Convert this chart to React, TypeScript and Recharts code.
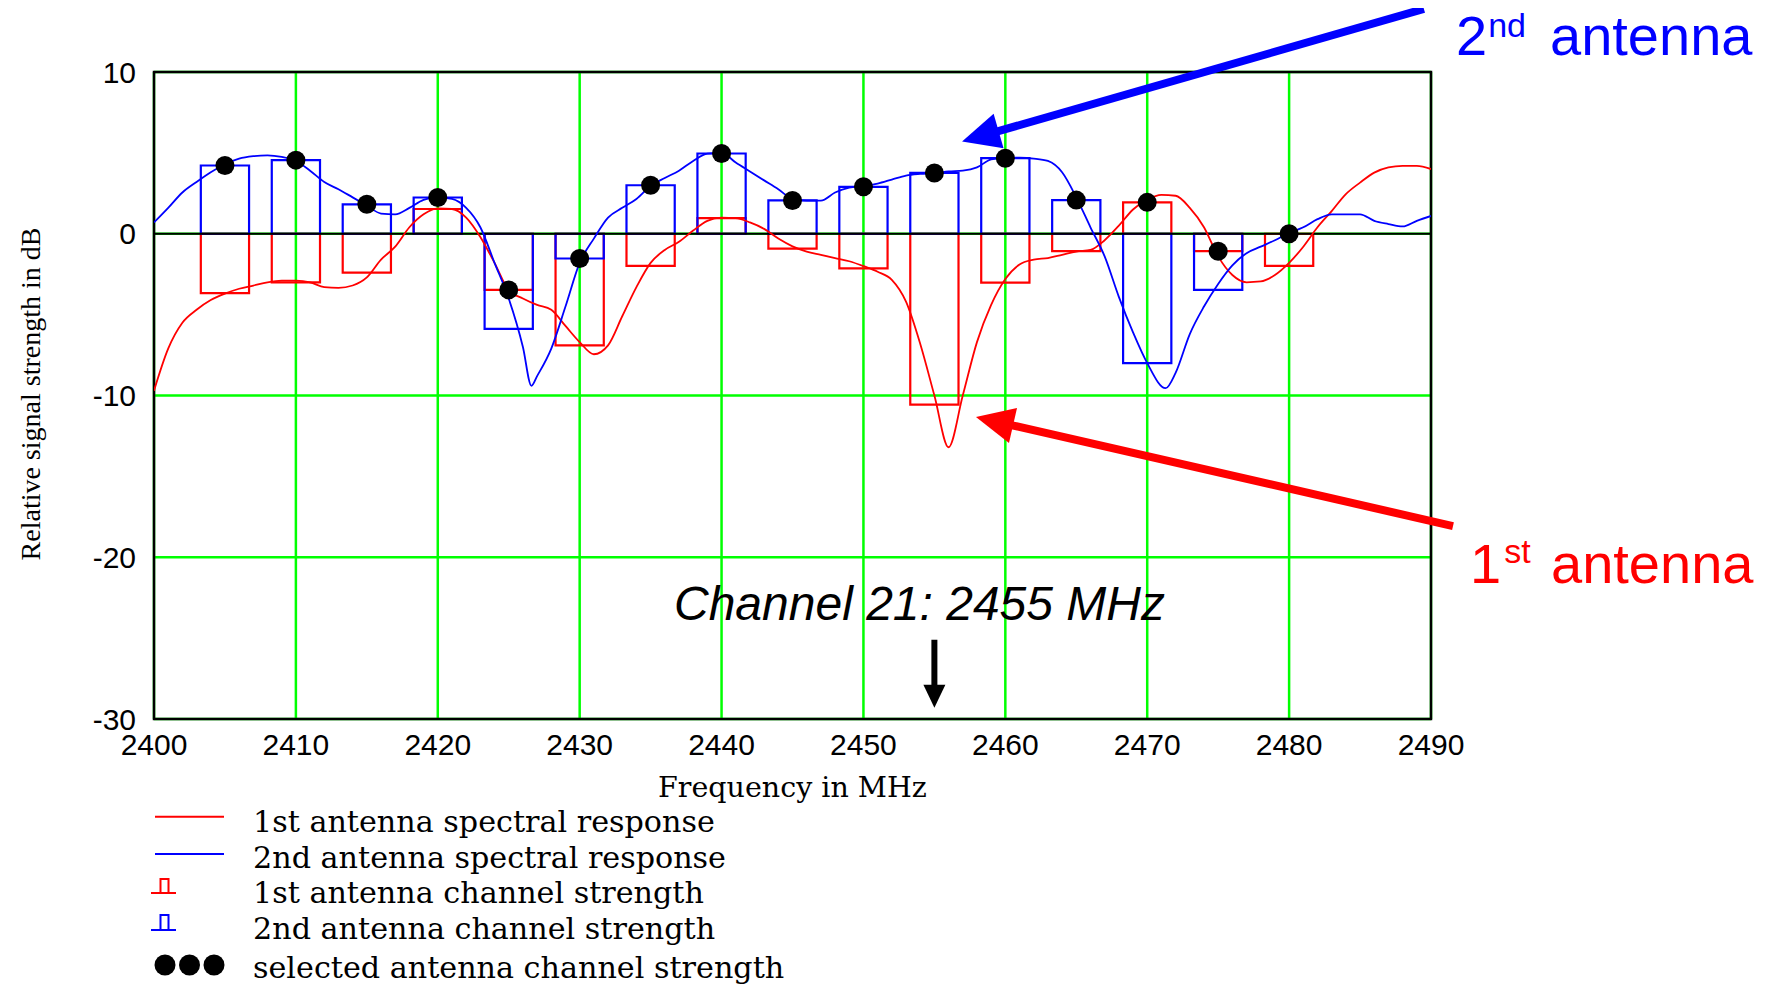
import React from 'react';
import {
  ComposedChart,
  XAxis,
  YAxis,
  CartesianGrid,
  Line,
  Scatter,
  ReferenceArea,
  ReferenceLine,
} from 'recharts';

// ---- Data ----
const ant1Freq = [
  2400, 2401, 2402, 2403, 2404, 2405, 2406, 2407, 2408, 2409,
  2410, 2411, 2412, 2413, 2414, 2415, 2416, 2417, 2418, 2419,
  2420, 2421, 2422, 2423, 2424, 2425, 2426, 2427, 2428, 2429,
  2430, 2431, 2432, 2433, 2434, 2435, 2436, 2437, 2438, 2439,
  2440, 2441, 2442, 2443, 2444, 2445, 2446, 2447, 2448, 2449,
  2450, 2451, 2452, 2453, 2454, 2455, 2456, 2457, 2458, 2459,
  2460, 2461, 2462, 2463, 2464, 2465, 2466, 2467, 2468, 2469,
  2470, 2471, 2472, 2473, 2474, 2475, 2476, 2477, 2478, 2479,
  2480, 2481, 2482, 2483, 2484, 2485, 2486, 2487, 2488, 2489,
  2490,
];
const ant1Db = [
  -9.7, -7.1, -5.5, -4.7, -4.1, -3.7, -3.4, -3.2, -3.0, -2.9,
  -2.9, -3.0, -3.3, -3.35, -3.2, -2.7, -1.6, -0.8, 0.4, 1.2,
  1.57, 1.53, 1.0, -0.2, -1.8, -3.5, -4.0, -4.4, -4.7, -5.7,
  -6.7, -7.45, -6.9, -5.1, -3.3, -1.8, -1.0, -0.5, 0.2, 0.8,
  1.0, 0.96, 0.7, 0.3, -0.3, -0.78, -1.1, -1.3, -1.5, -1.7,
  -2.0, -2.35, -2.85, -4.2, -6.8, -10.0, -13.2, -10.0, -6.7, -4.4,
  -2.8, -1.9, -1.6, -1.5, -1.3, -1.1, -1.0, -0.4, 0.5, 1.5,
  2.1, 2.4, 2.35, 1.6, 0.4, -1.4, -2.55, -3.0, -2.95, -2.55,
  -1.8, -0.8, 0.4, 1.4, 2.45, 3.16, 3.78, 4.1, 4.2, 4.2,
  4.0,
];

const ant2Freq = [
  2400, 2401, 2402, 2403, 2404, 2405, 2406, 2407, 2408, 2409,
  2410, 2411, 2412, 2413, 2414, 2415, 2416, 2417, 2418, 2419,
  2420, 2421, 2422, 2423, 2424, 2425, 2426, 2426.6, 2427, 2428, 2429,
  2430, 2431, 2432, 2433, 2434, 2435, 2436, 2437, 2438, 2439,
  2440, 2441, 2442, 2443, 2444, 2445, 2446, 2447, 2448, 2449,
  2450, 2451, 2452, 2453, 2454, 2455, 2456, 2457, 2458, 2459,
  2460, 2461, 2462, 2463, 2464, 2465, 2466, 2467, 2468, 2469,
  2470, 2471.3, 2472, 2473, 2474, 2475, 2476, 2477, 2478, 2479,
  2480, 2481, 2482, 2483, 2484, 2485, 2486, 2487, 2488, 2489,
  2490,
];
const ant2Db = [
  0.7, 1.6, 2.55, 3.2, 3.8, 4.3, 4.65, 4.8, 4.85, 4.75,
  4.5, 3.9, 3.2, 2.75, 2.25, 1.75, 1.25, 1.2, 1.6, 2.1,
  2.25, 2.15, 1.6, 0.4, -1.8, -4.0, -7.0, -9.4, -8.8, -7.1, -4.5,
  -1.8, -0.3, 1.0, 1.6, 2.15, 2.95, 3.45, 3.9, 4.5, 4.95,
  5.0, 4.4, 3.85, 3.3, 2.75, 2.15, 2.05, 2.05, 2.55, 2.85,
  2.95, 3.1, 3.35, 3.6, 3.7, 3.75, 3.85, 3.9, 4.1, 4.6,
  4.7, 4.7, 4.65, 4.5, 3.8, 2.25, 0.4, -1.4, -3.9, -6.1,
  -8.0, -9.55, -8.6, -6.2, -4.5, -3.1, -1.95, -1.2, -0.8, -0.4,
  0.05, 0.4, 0.9, 1.2, 1.2, 1.2, 0.8, 0.6, 0.45, 0.8,
  1.1,
];

const channelFreq = [2405, 2410, 2415, 2420, 2425, 2430, 2435, 2440, 2445, 2450, 2455, 2460, 2465, 2470, 2475, 2480];
const ant1Channel = [-3.67, -3.0, -2.4, 1.53, -3.47, -6.9, -1.98, 0.96, -0.92, -2.14, -10.57, -3.02, -1.08, 1.94, -1.08, -1.98];
const ant2Channel = [4.22, 4.55, 1.82, 2.24, -5.88, -1.53, 3.0, 4.96, 2.06, 2.9, 3.76, 4.67, 2.08, -8.0, -3.47, 0];
const selectedChannel = [4.22, 4.55, 1.82, 2.24, -3.47, -1.53, 3.0, 4.96, 2.06, 2.9, 3.76, 4.67, 2.08, 1.94, -1.08, 0];

const xTicks = [2400, 2410, 2420, 2430, 2440, 2450, 2460, 2470, 2480, 2490];
const yTicks = [-30, -20, -10, 0, 10];

const legendLabels = [
  '1st antenna spectral response',
  '2nd antenna spectral response',
  '1st antenna channel strength',
  '2nd antenna channel strength',
  'selected antenna channel strength',
];

// ---- Derived tables for the library ----
const ant1Data = ant1Freq.map((f, i) => ({ f, v: ant1Db[i] }));
const ant2Data = ant2Freq.map((f, i) => ({ f, v: ant2Db[i] }));
const selectedData = channelFreq.map((f, i) => ({ f, v: selectedChannel[i] }));

const RED = '#ff0000';
const BLUE = '#0000ff';
const GREEN = '#00ff00';
const HALF_BAR = 1.7;

const makeArrow = (color: string, shaft: number, headLen: number, headW: number) => (props: any) => {
  const { x1, y1, x2, y2 } = props;
  if ([x1, y1, x2, y2].some((v) => typeof v !== 'number' || isNaN(v))) return null;
  const dx = x2 - x1;
  const dy = y2 - y1;
  const len = Math.hypot(dx, dy) || 1;
  const ux = dx / len;
  const uy = dy / len;
  const px = -uy;
  const py = ux;
  const bx = x2 - ux * headLen;
  const by = y2 - uy * headLen;
  const pts = `${x2},${y2} ${bx + (px * headW) / 2},${by + (py * headW) / 2} ${bx - (px * headW) / 2},${by - (py * headW) / 2}`;
  return (
    <g>
      <line x1={x1} y1={y1} x2={bx + ux * 2} y2={by + uy * 2} stroke={color} strokeWidth={shaft} />
      <polygon points={pts} fill={color} />
    </g>
  );
};

const W = 1760;
const H = 976;

export default function App() {
  const tickStyle = { fontFamily: 'Liberation Sans, Arial, sans-serif', fontSize: 30, fill: '#000' };
  const legendFont = 'DejaVu Serif, serif';
  const sansFont = 'Liberation Sans, Arial, sans-serif';
  const rowBase = [823.5, 860, 895, 931, 970];
  return (
    <div style={{ position: 'relative', width: W, height: H, background: '#fff' }}>
      <ComposedChart width={W} height={H} margin={{ top: 64, right: 337, bottom: 175, left: 0 }}>
        <CartesianGrid stroke={GREEN} strokeWidth={2.5} />
        <XAxis
          dataKey="f"
          type="number"
          domain={[2400, 2490]}
          ticks={xTicks}
          allowDataOverflow
          height={90}
          tickLine={false}
          axisLine={false}
          tickSize={0}
          tickMargin={15}
          tick={tickStyle}
          interval={0}
        />
        <YAxis
          type="number"
          domain={[-30, 10]}
          ticks={yTicks}
          allowDataOverflow
          width={146}
          tickLine={false}
          axisLine={false}
          tickSize={0}
          tickMargin={18}
          tick={tickStyle}
          interval={0}
        />
        {channelFreq.map((f, i) => (
          <ReferenceArea
            key={`r${f}`}
            x1={f - HALF_BAR}
            x2={f + HALF_BAR}
            y1={0}
            y2={ant1Channel[i]}
            fill="none"
            fillOpacity={0}
            stroke={RED}
            strokeWidth={2.2}
            ifOverflow="visible"
          />
        ))}
        {channelFreq.map((f, i) => (
          <ReferenceArea
            key={`b${f}`}
            x1={f - HALF_BAR}
            x2={f + HALF_BAR}
            y1={0}
            y2={ant2Channel[i]}
            fill="none"
            fillOpacity={0}
            stroke={BLUE}
            strokeWidth={2.2}
            ifOverflow="visible"
          />
        ))}
        <ReferenceLine y={0} stroke="#000" strokeWidth={2.2} />
        <Line
          data={ant1Data}
          dataKey="v"
          type="monotone"
          stroke={RED}
          strokeWidth={1.8}
          dot={false}
          activeDot={false}
          isAnimationActive={false}
        />
        <Line
          data={ant2Data}
          dataKey="v"
          type="monotone"
          stroke={BLUE}
          strokeWidth={1.8}
          dot={false}
          activeDot={false}
          isAnimationActive={false}
        />
        <Scatter
          data={selectedData}
          dataKey="v"
          isAnimationActive={false}
          shape={(p: any) => <circle cx={p.cx} cy={p.cy} r={9.5} fill="#000" />}
        />
        <ReferenceArea
          x1={2400}
          x2={2490}
          y1={-30}
          y2={10}
          fill="none"
          fillOpacity={0}
          stroke="#000"
          strokeWidth={2.5}
          ifOverflow="visible"
        />
        <ReferenceLine
          segment={[{ x: 2489.5, y: 13.9 }, { x: 2456.95, y: 5.7 }]}
          ifOverflow="visible"
          shape={makeArrow(BLUE, 8, 38, 36)}
        />
        <ReferenceLine
          segment={[{ x: 2491.55, y: -18.07 }, { x: 2457.93, y: -11.33 }]}
          ifOverflow="visible"
          shape={makeArrow(RED, 8, 38, 36)}
        />
        <ReferenceLine
          segment={[{ x: 2455, y: -25.1 }, { x: 2455, y: -29.3 }]}
          ifOverflow="visible"
          shape={makeArrow('#000', 6, 23, 22)}
        />
      </ComposedChart>

      <svg
        width={1775}
        height={992}
        style={{ position: 'absolute', left: -8, top: -8, pointerEvents: 'none' }}
      >
        <g transform="translate(8,8)">
          {/* axis titles */}
          <text
            x={31.5}
            y={386}
            transform="rotate(-90 31.5 386)"
            textAnchor="middle"
            fontFamily="Liberation Serif, serif"
            fontSize={28}
            fill="#000"
          >
            Relative signal strength in dB
          </text>
          <text x={784.5} y={788.7} textAnchor="middle" fontFamily={legendFont} fontSize={28.5} fill="#000">
            Frequency in MHz
          </text>

          {/* annotations */}
          <text x={666} y={612} fontFamily={sansFont} fontStyle="italic" fontSize={48} fill="#000">
            Channel 21: 2455 MHz
          </text>
          <text x={1448} y={47} fontFamily={sansFont} fontSize={56} fill={BLUE}>
            2
            <tspan fontSize={34} dx={1} dy={-18}>nd</tspan>
            <tspan x={1542} dy={18}>antenna</tspan>
          </text>
          <text x={1462} y={575} fontFamily={sansFont} fontSize={56} fill={RED}>
            1
            <tspan fontSize={34} dx={3} dy={-20}>st</tspan>
            <tspan x={1543} dy={20}>antenna</tspan>
          </text>

          {/* legend */}
          <line x1={147} y1={808.7} x2={216} y2={808.7} stroke={RED} strokeWidth={2} />
          <line x1={147} y1={846} x2={216} y2={846} stroke={BLUE} strokeWidth={2} />
          <polyline points="143,885 168,885" stroke={RED} strokeWidth={2} fill="none" />
          <polyline points="152.5,885 152.5,871 160.5,871 160.5,885" stroke={RED} strokeWidth={2} fill="none" />
          <polyline points="143,922 168,922" stroke={BLUE} strokeWidth={2} fill="none" />
          <polyline points="152.5,922 152.5,907 160.5,907 160.5,922" stroke={BLUE} strokeWidth={2} fill="none" />
          <circle cx={157} cy={957} r={10.5} fill="#000" />
          <circle cx={181.5} cy={957} r={10.5} fill="#000" />
          <circle cx={206} cy={957} r={10.5} fill="#000" />
          {legendLabels.map((t, i) => (
            <text key={t} x={245} y={rowBase[i]} fontFamily={legendFont} fontSize={30.2} fill="#000">
              {t}
            </text>
          ))}
        </g>
      </svg>
    </div>
  );
}
